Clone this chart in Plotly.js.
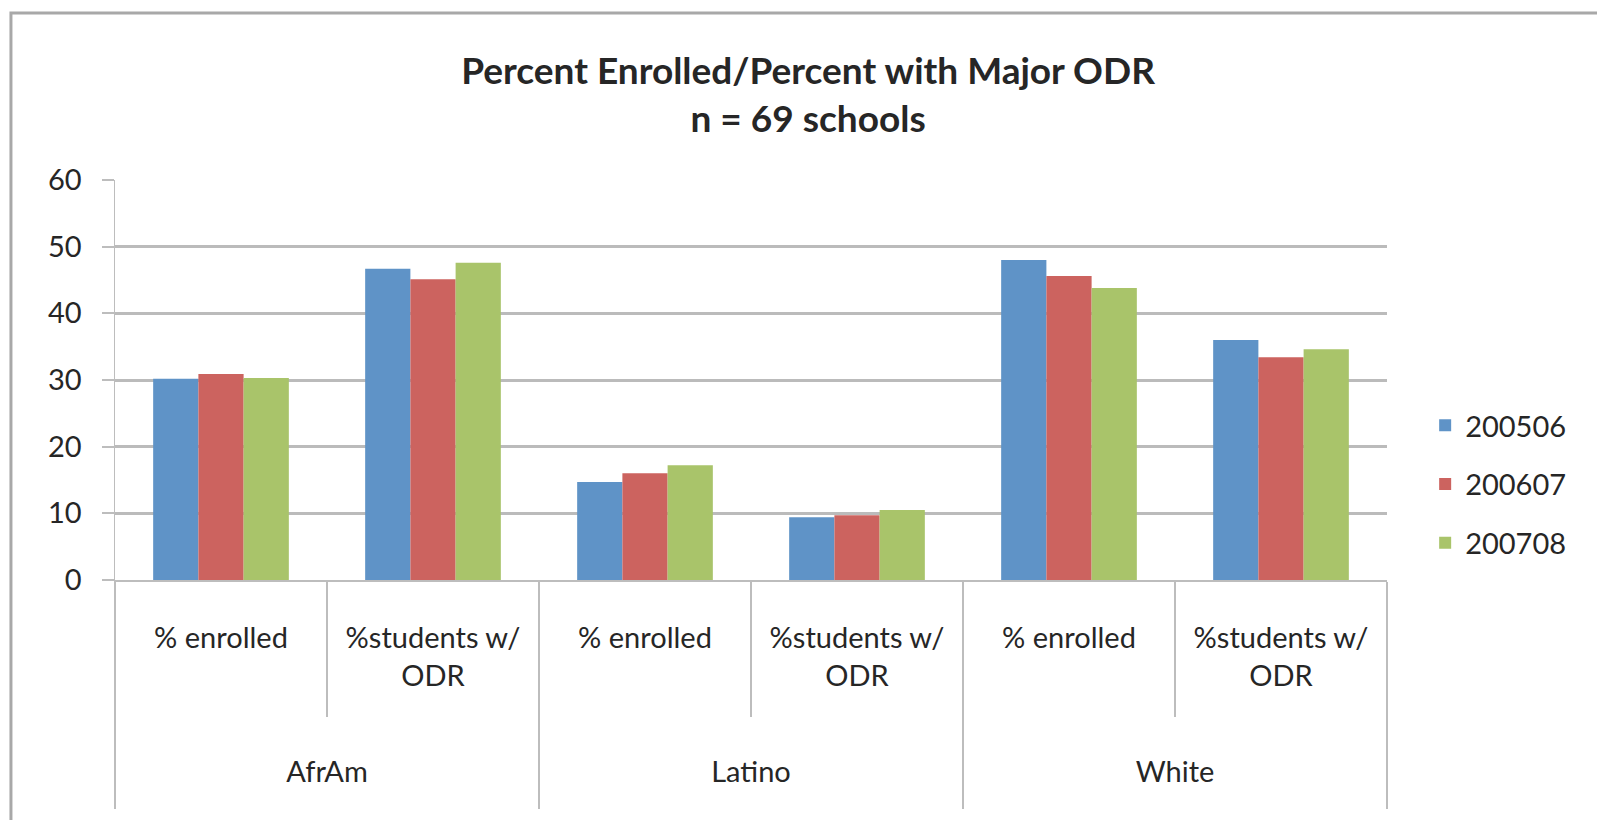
<!DOCTYPE html>
<html>
<head>
<meta charset="utf-8">
<script src="https://cdn.plot.ly/plotly-3.0.1.min.js"></script>
<style>
  html, body { margin: 0; padding: 0; background: #ffffff; }
  #chart { width: 1597px; height: 820px; }
</style>
</head>
<body>
<div id="chart"></div>
<script>
// Group (outer) and measure (inner) categories for the x axis
const groups = ['AfrAm', 'AfrAm', 'Latino', 'Latino', 'White', 'White'];
const measures = ['% enrolled', '%students w/<br>ODR', '% enrolled', '%students w/<br>ODR', '% enrolled', '%students w/<br>ODR'];

// Series names and values (percent)
const seriesNames = ['200506', '200607', '200708'];
const values200506 = [30.2, 46.7, 14.7, 9.4, 48.0, 36.0];
const values200607 = [30.9, 45.1, 16.0, 9.7, 45.6, 33.4];
const values200708 = [30.3, 47.6, 17.2, 10.5, 43.8, 34.6];

const yTicks = [0, 10, 20, 30, 40, 50, 60];

const seriesColors = ['#5F93C7', '#CC635F', '#A9C46A'];
const seriesValues = [values200506, values200607, values200708];

const FONT = 'Lato, "Open Sans", sans-serif';
const TEXT = '#262626';
const GRID = '#BBBBBB';
const AXIS = '#BDBDBD';

// empty (non-breaking space) lines under each measure label leave
// room between the measure row and the group row of the axis
const measureLabels = measures.map(
  m => m + '<br>\u00A0<br><span style="font-size:100px">\u00A0</span>'
);
// tall invisible spaces around each group name let the group dividers
// run a little below the group row
const pad = '<span style="font-size:120px">\u00A0</span>';
const groupLabels = groups.map(g => pad + g + pad);

const traces = seriesNames.map((name, i) => ({
  type: 'bar',
  name: name,
  legendgroup: name,
  x: [groupLabels, measureLabels],
  y: seriesValues[i],
  marker: { color: seriesColors[i], line: { width: 0 } },
  hoverinfo: 'x+y+name'
}));

const layout = {
  width: 1597,
  height: 820,
  paper_bgcolor: '#ffffff',
  plot_bgcolor: '#ffffff',
  margin: { l: 115, r: 210, t: 180, b: 240 },
  font: { family: FONT, color: TEXT, size: 29 },
  title: {
    text: 'Percent Enrolled/Percent with Major ODR<br>n = 69 schools',
    font: { family: FONT, size: 37, color: TEXT, weight: 'bold' },
    xref: 'container',
    x: 0.506,
    xanchor: 'center',
    yref: 'container',
    y: 0.898,
    yanchor: 'top'
  },
  barmode: 'group',
  bargap: 0.36,
  bargroupgap: 0,
  xaxis: {
    type: 'multicategory',
    showline: true,
    linecolor: AXIS,
    linewidth: 2,
    ticks: 'outside',
    tickson: 'boundaries',
    ticklen: 135,
    tickwidth: 2,
    tickcolor: AXIS,
    ticklabelstandoff: 31,
    showdividers: true,
    dividercolor: AXIS,
    dividerwidth: 2,
    tickfont: { family: FONT, size: 29, color: TEXT },
    showgrid: false,
    fixedrange: true
  },
  yaxis: {
    range: [0, 60],
    tickvals: yTicks,
    ticktext: yTicks.map(String),
    showline: true,
    linecolor: AXIS,
    linewidth: 1.5,
    ticks: 'outside',
    ticklen: 12,
    tickwidth: 2,
    tickcolor: AXIS,
    ticklabelstandoff: 14,
    showgrid: true,
    gridcolor: GRID,
    gridwidth: 3,
    zeroline: false,
    tickfont: { family: FONT, size: 29, color: TEXT },
    fixedrange: true
  },
  legend: {
    x: 1.03,
    xanchor: 'left',
    y: 0.45,
    yanchor: 'top',
    font: { family: FONT, size: 29, color: TEXT },
    tracegroupgap: 18,
    bgcolor: 'rgba(0,0,0,0)'
  },
  shapes: [
    {
      type: 'path',
      xref: 'paper', yref: 'paper',
      path: 'M -0.0818 -0.7 L -0.0818 1.4175 L 1.2 1.4175',
      line: { color: '#A8A8A8', width: 3 }
    }
  ]
};

Plotly.newPlot('chart', traces, layout, { displayModeBar: false, staticPlot: true });
</script>
</body>
</html>
